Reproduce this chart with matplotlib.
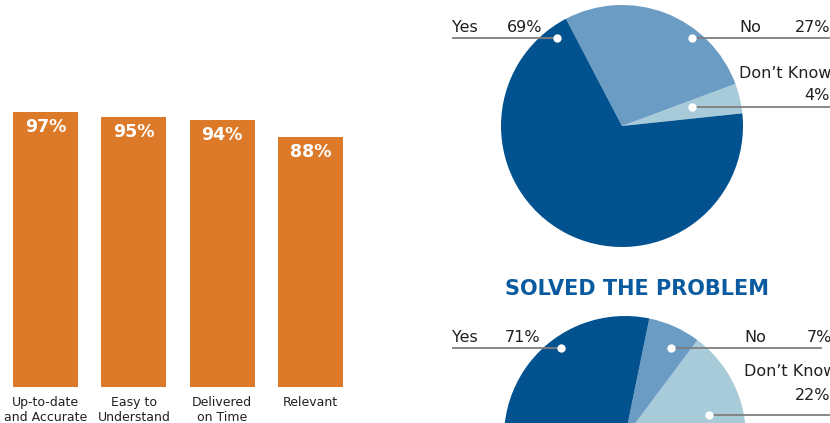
import numpy as np
import matplotlib.pyplot as plt

# bar chart data
categories = ['Up-to-date\nand Accurate', 'Easy to\nUnderstand', 'Delivered\non Time', 'Relevant']
scores = [97, 95, 94, 88]

# pie charts data
pie_labels = ['Yes', 'No', "Don\u2019t Know"]
pie1_values = [69, 27, 4]
pie2_values = [71, 7, 22]
pie2_title = 'SOLVED THE PROBLEM'

ORANGE = '#dc7a29'
BLUES = ['#02528f', '#6b9cc4', '#a8cbd9']
TXT = '#231f20'
W, H = 830, 423

fig = plt.figure(figsize=(W / 100, H / 100), dpi=100)

def box(x0, y0, w, h):
    # pixel box (top-left origin) -> figure fraction
    return [x0 / W, 1 - (y0 + h) / H, w / W, h / H]

# ---- bars ----
ax = fig.add_axes(box(0, 103, 360, 284))
x = np.arange(len(categories))
ax.bar(x, scores, width=0.736, color=ORANGE)
ax.set_xlim(-0.515, 3.56)
ax.set_ylim(0, 100)
ax.axis('off')
for i, v in enumerate(scores):
    ax.text(i, v - 2.2, f'{v}%', ha='center', va='top', color='white',
            fontsize=12.5, fontweight='heavy', family='DejaVu Sans')
    ax.text(i, -3.0, categories[i], ha='center', va='top', color=TXT,
            fontsize=9, linespacing=1.2, family='DejaVu Sans')

# ---- pies ----
R = 121

def draw_pie(cx, cy, values, start):
    pax = fig.add_axes(box(cx - R, cy - R, 2 * R, 2 * R))
    # drawn counterclockwise: Don't Know, No, Yes
    pax.pie(values[::-1], colors=BLUES[::-1], startangle=start, counterclock=True,
            radius=1, wedgeprops=dict(linewidth=0))
    pax.set_xlim(-1, 1)
    pax.set_ylim(-1, 1)
    pax.set_aspect('auto')
    pax.axis('off')

draw_pie(622, 126, pie1_values, 6)
draw_pie(625, 437, pie2_values, -26)

# overlay for labels, leader lines and dots
ov = fig.add_axes([0, 0, 1, 1])
ov.set_xlim(0, W)
ov.set_ylim(H, 0)
ov.axis('off')

def leader(x0, x1, y, dot):
    ov.plot([x0, x1], [y, y], color='#7f7f7f', lw=1.3, solid_capstyle='butt')
    ov.plot(dot, y, 'o', color='white', ms=6, mec='none')

fs = 11.5
# pie 1
ov.text(452, 27, pie_labels[0], ha='left', va='center', fontsize=fs, color=TXT)
ov.text(542, 27, f'{pie1_values[0]}%', ha='right', va='center', fontsize=fs, color=TXT)
leader(452, 557, 38, 557)
ov.text(739, 27, pie_labels[1], ha='left', va='center', fontsize=fs, color=TXT)
ov.text(830, 27, f'{pie1_values[1]}%', ha='right', va='center', fontsize=fs, color=TXT)
leader(692, 830, 38, 692)
ov.text(739, 73, pie_labels[2], ha='left', va='center', fontsize=fs, color=TXT)
ov.text(830, 95, f'{pie1_values[2]}%', ha='right', va='center', fontsize=fs, color=TXT)
leader(692, 830, 107, 692)

# pie 2
ov.text(637, 289, pie2_title, ha='center', va='center', fontsize=15,
        fontweight='heavy', color='#0a5a9f')
ov.text(452, 337, pie_labels[0], ha='left', va='center', fontsize=fs, color=TXT)
ov.text(540, 337, f'{pie2_values[0]}%', ha='right', va='center', fontsize=fs, color=TXT)
leader(452, 561, 348, 561)
ov.text(744, 337, pie_labels[1], ha='left', va='center', fontsize=fs, color=TXT)
ov.text(832, 337, f'{pie2_values[1]}%', ha='right', va='center', fontsize=fs, color=TXT)
leader(671, 822, 348, 671)
ov.text(744, 372, pie_labels[2], ha='left', va='center', fontsize=fs, color=TXT)
ov.text(830, 395, f'{pie2_values[2]}%', ha='right', va='center', fontsize=fs, color=TXT)
leader(709, 830, 415, 709)

fig.savefig('out.png', dpi=100)
